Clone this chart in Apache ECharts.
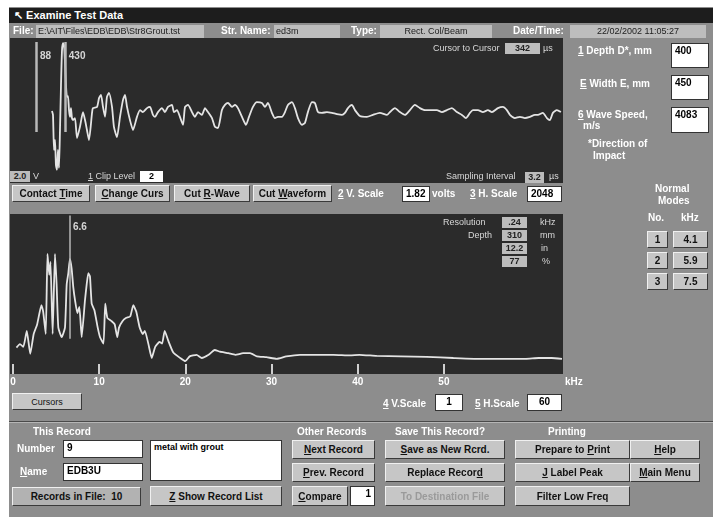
<!DOCTYPE html>
<html>
<head>
<meta charset="utf-8">
<script src="https://cdn.jsdelivr.net/npm/echarts@6/dist/echarts.min.js"></script>
<style>
  body { margin:0; width:713px; height:517px; background:#fff; overflow:hidden;
         font-family:"Liberation Sans", Arial, sans-serif; }
  .abs { position:absolute; white-space:nowrap; }
  .win { position:absolute; left:9px; top:7px; width:704px; height:510px; background:#8d8d8d; }
  .title { position:absolute; left:9px; top:8px; width:704px; height:15px; background:#1d1d1d;
           color:#fff; font-weight:bold; font-size:11px; line-height:15px; }
  .plot { position:absolute; background:#2b2b2b; }
  .lbl { position:absolute; white-space:nowrap; color:#fff; font-weight:bold; font-size:10px; line-height:12px; z-index:3; }
  .dim { position:absolute; white-space:nowrap; color:#d8d8d8; font-size:9px; line-height:11px; z-index:3; }
  .fld { position:absolute; background:#bdbdbd; color:#222; font-size:9px; line-height:13px; height:13px;
         overflow:hidden; white-space:nowrap; box-sizing:border-box; padding:0 2px; z-index:3; }
  .box { position:absolute; background:#fff; color:#000; font-weight:bold; font-size:10px; box-sizing:border-box;
         border:1px solid #333; padding:1px 3px; white-space:nowrap; overflow:hidden; z-index:3; }
  .gbox { position:absolute; background:#bcbcbc; color:#222; font-weight:bold; font-size:9px; line-height:11px;
          height:11px; text-align:center; box-sizing:border-box; white-space:nowrap; z-index:3; }
  .btn { position:absolute; background:#c6c6c6; color:#111; font-weight:bold; font-size:10px; box-sizing:border-box;
         border:1px solid; border-color:#f0f0f0 #3a3a3a #3a3a3a #f0f0f0; display:flex; align-items:center;
         justify-content:center; white-space:nowrap; z-index:3; }
  .btn > span { white-space:pre; }
  .btn.off { color:#9a9a9a; }
  #chart { position:absolute; left:0; top:0; width:713px; height:517px; z-index:2; }
</style>
</head>
<body>
<div class="win"></div>
<div class="title"><span style="margin-left:5px">&#8598;</span> Examine Test Data</div>

<!-- record header row -->
<div class="lbl" style="left:13px;top:25px">File:</div>
<div class="fld" style="left:36px;top:25px;width:168px">E:\AIT\Files\EDB\EDB\Str8Grout.tst</div>
<div class="lbl" style="left:221px;top:25px">Str. Name:</div>
<div class="fld" style="left:274px;top:25px;width:66px">ed3m</div>
<div class="lbl" style="left:351px;top:25px">Type:</div>
<div class="fld" style="left:380px;top:25px;width:112px;text-align:center">Rect. Col/Beam</div>
<div class="lbl" style="left:513px;top:25px">Date/Time:</div>
<div class="fld" style="left:570px;top:25px;width:136px;text-align:center">22/02/2002 11:05:27</div>

<!-- waveform panel -->
<div class="plot" style="left:10px;top:38px;width:553px;height:145px"></div>
<div class="dim" style="left:433px;top:43px">Cursor to Cursor</div>
<div class="gbox" style="left:505px;top:43px;width:35px">342</div>
<div class="dim" style="left:543px;top:43px">µs</div>
<div class="gbox" style="left:10px;top:171px;width:20px">2.0</div>
<div class="dim" style="left:33px;top:171px">V</div>
<div class="dim" style="left:88px;top:171px"><u>1</u> Clip Level</div>
<div class="gbox" style="left:140px;top:171px;width:23px;background:#fff;color:#000">2</div>
<div class="dim" style="left:446px;top:171px">Sampling Interval</div>
<div class="gbox" style="left:525px;top:172px;width:19px">3.2</div>
<div class="dim" style="left:549px;top:171px">µs</div>

<!-- waveform controls -->
<div class="btn" style="left:12px;top:185px;width:78px;height:17px"><span>Contact <u>T</u>ime</span></div>
<div class="btn" style="left:95px;top:185px;width:75px;height:17px"><span><u>C</u>hange Curs</span></div>
<div class="btn" style="left:174px;top:185px;width:76px;height:17px"><span>Cut <u>R</u>-Wave</span></div>
<div class="btn" style="left:253px;top:185px;width:79px;height:17px"><span>Cut <u>W</u>aveform</span></div>
<div class="lbl" style="left:338px;top:188px"><u>2</u> V. Scale</div>
<div class="box" style="left:402px;top:186px;width:28px;height:16px">1.82</div>
<div class="lbl" style="left:432px;top:188px">volts</div>
<div class="lbl" style="left:470px;top:188px"><u>3</u> H. Scale</div>
<div class="box" style="left:527px;top:186px;width:35px;height:16px">2048</div>

<!-- spectrum panel -->
<div class="plot" style="left:10px;top:214px;width:553px;height:160px"></div>
<div class="dim" style="left:443px;top:217px">Resolution</div>
<div class="dim" style="left:468px;top:230px">Depth</div>
<div class="gbox" style="left:502px;top:217px;width:25px">.24</div>
<div class="gbox" style="left:502px;top:230px;width:25px">310</div>
<div class="gbox" style="left:502px;top:243px;width:25px">12.2</div>
<div class="gbox" style="left:502px;top:256px;width:25px">77</div>
<div class="dim" style="left:540px;top:217px">kHz</div>
<div class="dim" style="left:540px;top:230px">mm</div>
<div class="dim" style="left:541px;top:243px">in</div>
<div class="dim" style="left:542px;top:256px">%</div>

<div class="btn" style="left:12px;top:393px;width:70px;height:17px;font-weight:normal;font-size:9px"><span>Cursors</span></div>
<div class="lbl" style="left:383px;top:398px"><u>4</u> V.Scale</div>
<div class="box" style="left:435px;top:394px;width:28px;height:17px;text-align:center">1</div>
<div class="lbl" style="left:475px;top:398px"><u>5</u> H.Scale</div>
<div class="box" style="left:527px;top:394px;width:35px;height:17px;text-align:center">60</div>

<!-- right-hand member panel -->
<div class="lbl" style="left:578px;top:45px"><u>1</u> Depth D*, mm</div>
<div class="box" style="left:671px;top:43px;width:38px;height:25px">400</div>
<div class="lbl" style="left:580px;top:78px"><u>E</u> Width E, mm</div>
<div class="box" style="left:671px;top:75px;width:38px;height:25px">450</div>
<div class="lbl" style="left:578px;top:109px"><u>6</u> Wave Speed,</div>
<div class="lbl" style="left:583px;top:120px">m/s</div>
<div class="box" style="left:671px;top:107px;width:38px;height:26px">4083</div>
<div class="lbl" style="left:588px;top:138px">*Direction of</div>
<div class="lbl" style="left:593px;top:150px">Impact</div>
<div class="lbl" style="left:655px;top:183px">Normal</div>
<div class="lbl" style="left:658px;top:195px">Modes</div>
<div class="lbl" style="left:648px;top:212px">No.</div>
<div class="lbl" style="left:681px;top:212px">kHz</div>
<div class="btn" style="left:647px;top:231px;width:21px;height:17px"><span>1</span></div>
<div class="btn" style="left:673px;top:231px;width:35px;height:17px"><span>4.1</span></div>
<div class="btn" style="left:647px;top:252px;width:21px;height:17px"><span>2</span></div>
<div class="btn" style="left:673px;top:252px;width:35px;height:17px"><span>5.9</span></div>
<div class="btn" style="left:647px;top:273px;width:21px;height:17px"><span>3</span></div>
<div class="btn" style="left:673px;top:273px;width:35px;height:17px"><span>7.5</span></div>

<!-- record area -->
<div class="abs" style="left:9px;top:421px;width:704px;height:1px;background:#4a4a4a"></div>
<div class="abs" style="left:9px;top:422px;width:704px;height:1px;background:#b5b5b5"></div>
<div class="lbl" style="left:33px;top:426px">This Record</div>
<div class="lbl" style="left:297px;top:426px">Other Records</div>
<div class="lbl" style="left:395px;top:426px">Save This Record?</div>
<div class="lbl" style="left:548px;top:426px">Printing</div>
<div class="lbl" style="left:17px;top:443px">Number</div>
<div class="box" style="left:63px;top:440px;width:80px;height:18px">9</div>
<div class="lbl" style="left:20px;top:466px"><u>N</u>ame</div>
<div class="box" style="left:63px;top:463px;width:80px;height:18px">EDB3U</div>
<div class="btn" style="left:12px;top:487px;width:129px;height:19px;background:#b2b2b2"><span>Records in File:  10</span></div>
<div class="box" style="left:150px;top:440px;width:132px;height:41px;font-size:9px">metal with grout</div>
<div class="btn" style="left:150px;top:486px;width:132px;height:20px"><span><u>Z</u> Show Record List</span></div>
<div class="btn" style="left:292px;top:440px;width:83px;height:19px"><span><u>N</u>ext Record</span></div>
<div class="btn" style="left:292px;top:463px;width:83px;height:19px"><span><u>P</u>rev. Record</span></div>
<div class="btn" style="left:292px;top:486px;width:56px;height:20px"><span><u>C</u>ompare</span></div>
<div class="box" style="left:350px;top:486px;width:25px;height:20px;text-align:right">1</div>
<div class="btn" style="left:385px;top:440px;width:120px;height:19px"><span><u>S</u>ave as New Rcrd.</span></div>
<div class="btn" style="left:385px;top:463px;width:120px;height:19px"><span>Replace Recor<u>d</u></span></div>
<div class="btn off" style="left:385px;top:486px;width:120px;height:20px"><span>To Destination File</span></div>
<div class="btn" style="left:515px;top:440px;width:115px;height:19px"><span>Prepare to <u>P</u>rint</span></div>
<div class="btn" style="left:515px;top:463px;width:115px;height:19px"><span><u>J</u> Label Peak</span></div>
<div class="btn" style="left:515px;top:486px;width:115px;height:20px"><span>Filter Low Freq</span></div>
<div class="btn" style="left:630px;top:440px;width:70px;height:19px"><span><u>H</u>elp</span></div>
<div class="btn" style="left:630px;top:463px;width:70px;height:19px"><span><u>M</u>ain Menu</span></div>

<div id="chart"></div>

<script>
// Impact-echo record: time waveform (µs, volts)
const waveTimeUs = [278,290,302,314,325,337,349,361,373,385,397,409,421,432,444,456,468,480,492,503,515,527,551,575,610,646,670,693,717,753,764,812,836,859,883,907,930,954,990,1013,1049,1085,1120,1144,1168,1203,1239,1286,1322,1357,1405,1440,1476,1500,1535,1583,1618,1654,1701,1725,1761,1796,1832,1856,1891,1939,1974,2010,2057,2093,2128,2176,2211,2247,2294,2330,2366,2413,2449,2484,2532,2579,2615,2662,2709,2769,2804,2840,2887,2923,2958,3006,3042,3077,3125,3160,3196,3243,3279,3314,3362,3397,3433,3480,3540,3599,3658,3718,3753,3789,3836,3872,3931,4014,4085,4168,4251,4287,4346,4405,4465,4524,4583,4643,4702,4761,4844,4904,4963,5022,5081,5141,5188,5236,5271,5331,5390,5449,5497,5568,5627,5674,5710,5769,5829,5888,5947,6007,6042,6101,6149,6184,6220,6267,6315];
const waveVolts = [-0.01,-0.11,-0.99,-0.74,-1.37,-1.49,-0.99,-1.44,-0.49,0.64,1.52,1.69,1.64,1.22,0.64,0.34,0.36,0.01,-0.16,0.06,-0.19,-0.24,-0.19,-0.69,-0.41,-0.04,-0.24,-0.49,-0.74,-0.06,0.06,0.09,0.31,0.39,0.09,-0.16,0.34,0.44,0.09,-0.41,-0.67,-0.16,0.26,0.39,0.09,-0.24,-0.49,-0.16,0.01,-0.04,0.06,0.09,-0.11,-0.16,-0.04,0.06,-0.04,0.09,0.14,-0.04,0.01,-0.16,-0.36,0.09,0.14,-0.04,-0.16,-0.04,-0.11,0.06,-0.04,-0.19,-0.41,-0.44,0.01,0.14,0.19,0.09,0.14,0.06,-0.16,-0.36,-0.16,0.09,0.21,0.19,0.09,0.19,-0.06,-0.19,-0.16,-0.16,-0.04,0.14,0.21,0.06,-0.19,-0.36,-0.31,-0.04,0.21,0.19,-0.04,-0.06,-0.04,-0.06,-0.09,-0.11,-0.06,0.06,0.14,0.01,-0.14,-0.16,-0.11,-0.06,-0.11,-0.04,0.06,-0.04,-0.11,0.01,0.14,0.06,0.01,0.01,0.01,-0.04,0.01,0.06,-0.04,-0.11,-0.19,-0.06,0.01,0.01,-0.04,0.01,-0.04,0.06,0.09,0.01,-0.11,-0.19,-0.16,-0.19,-0.16,-0.11,-0.11,-0.06,-0.19,-0.24,-0.06,0.01,-0.04];
const cursorTimesUs = [88, 430];

// Amplitude spectrum (kHz, relative amplitude)
const specFreqKHz = [0.4,0.8,1.2,1.6,2.0,2.4,2.8,3.3,3.5,3.8,4.0,4.2,4.35,4.6,4.87,5.06,5.26,5.65,6.03,6.23,6.42,6.6,6.8,7.0,7.2,7.47,7.7,7.97,8.35,8.55,8.74,8.93,9.13,9.44,9.83,10.1,10.5,10.7,10.95,11.45,11.8,12.1,12.3,12.7,13.1,13.6,13.96,14.3,14.7,15.05,15.3,15.7,16.1,16.5,17.0,17.3,17.6,18.0,18.6,19.4,20.0,20.5,21.3,21.9,22.7,23.4,24.0,25.0,25.8,26.7,27.5,28.3,29.4,30.6,31.7,33.3,35.2,37.2,39.1,40.2,42.2,45.0,48.0,51.1,54.6,57.0,59.5,61.0,62.5,63.7];
const specAmp = [0.165,0.187,0.17,0.27,0.126,0.25,0.31,0.43,0.39,0.25,0.75,0.62,0.70,0.25,0.75,0.56,0.29,0.23,0.29,0.56,0.63,0.72,0.66,0.54,0.46,0.38,0.42,0.23,0.46,0.56,0.63,0.61,0.44,0.40,0.29,0.23,0.19,0.44,0.35,0.33,0.31,0.23,0.29,0.33,0.35,0.36,0.43,0.39,0.29,0.25,0.27,0.19,0.10,0.17,0.20,0.19,0.27,0.21,0.134,0.10,0.08,0.11,0.12,0.10,0.12,0.15,0.14,0.13,0.12,0.13,0.13,0.11,0.105,0.095,0.11,0.12,0.12,0.12,0.116,0.12,0.113,0.11,0.107,0.10,0.094,0.095,0.095,0.10,0.10,0.094];
const peakFreqKHz = 6.6;
const freqTicks = [0, 10, 20, 30, 40, 50, 60];

const traceColor = '#e4e4e4';
const cursorColor = '#b9b9b9';
const labelStyle = { color: '#fff', fontWeight: 'bold', fontSize: 10, fontFamily: 'Liberation Sans' };

const chart = echarts.init(document.getElementById('chart'), null, { renderer: 'canvas' });
chart.setOption({
  animation: false,
  backgroundColor: 'transparent',
  grid: [
    { left: 10, top: 38, width: 553, height: 145 },
    { left: 13, top: 214, width: 549, height: 160 }
  ],
  xAxis: [
    { gridIndex: 0, type: 'value', min: -220, max: 6340, show: false },
    {
      gridIndex: 1, type: 'value', min: 0, max: 63.7, interval: 10,
      axisLine: { show: false },
      splitLine: { show: false },
      axisTick: { show: true, inside: true, length: 10, customValues: freqTicks,
                  lineStyle: { color: '#cfcfcf', width: 2 } },
      axisLabel: Object.assign({ margin: 3, customValues: freqTicks, showMaxLabel: false }, labelStyle),
      name: 'kHz', nameLocation: 'end', nameGap: 3,
      nameTextStyle: Object.assign({ verticalAlign: 'top', padding: [3, 0, 0, 0] }, labelStyle)
    }
  ],
  yAxis: [
    { gridIndex: 0, type: 'value', min: -1.82, max: 1.82, show: false },
    { gridIndex: 1, type: 'value', min: 0, max: 1, show: false }
  ],
  series: [
    {
      type: 'line', xAxisIndex: 0, yAxisIndex: 0, symbol: 'none', smooth: 0.2,
      data: waveTimeUs.map((t, i) => [t, waveVolts[i]]),
      lineStyle: { color: traceColor, width: 1.8 },
      markLine: {
        silent: true, symbol: 'none', label: { show: false },
        lineStyle: { color: cursorColor, width: 2.5, type: 'solid' },
        data: cursorTimesUs.map(t => [{ coord: [t, -0.54] }, { coord: [t, 1.72] }])
      }
    },
    {
      type: 'scatter', xAxisIndex: 0, yAxisIndex: 0, symbolSize: 0,
      data: cursorTimesUs.map(t => [t, 1.37]),
      label: Object.assign({ show: true, position: 'right', distance: 4,
                             formatter: p => String(p.value[0]) }, labelStyle)
    },
    {
      type: 'line', xAxisIndex: 1, yAxisIndex: 1, symbol: 'none', smooth: 0.15,
      data: specFreqKHz.map((f, i) => [f, specAmp[i]]),
      lineStyle: { color: traceColor, width: 1.8 },
      markLine: {
        silent: true, symbol: 'none', label: { show: false },
        lineStyle: { color: cursorColor, width: 1.5, type: 'solid' },
        data: [[{ coord: [peakFreqKHz, 0.22] }, { coord: [peakFreqKHz, 0.99] }]]
      }
    },
    {
      type: 'scatter', xAxisIndex: 1, yAxisIndex: 1, symbolSize: 0,
      data: [[peakFreqKHz, 0.92]],
      label: Object.assign({ show: true, position: 'right', distance: 3,
                             formatter: p => p.value[0].toFixed(1) }, labelStyle)
    }
  ]
});
</script>
</body>
</html>
